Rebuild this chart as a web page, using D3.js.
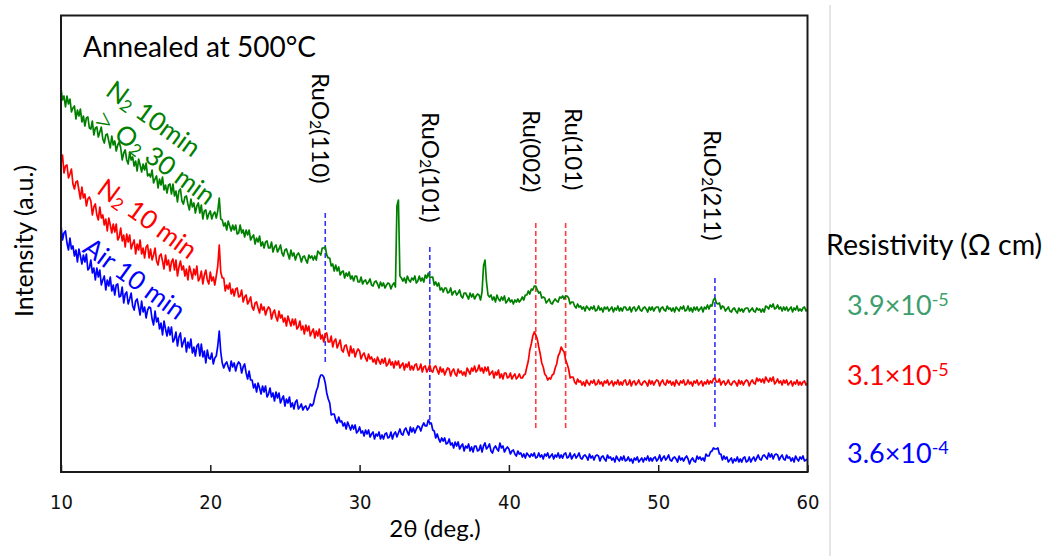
<!DOCTYPE html>
<html><head><meta charset="utf-8">
<script src="https://cdn.jsdelivr.net/npm/d3@7"></script>
<style>
body{margin:0;background:#fff;}
text{font-family:Lato,"Open Sans",sans-serif;}
</style></head><body>
<svg id="chart" width="1050" height="556"></svg>
<script>
const thetaStart = 10, thetaStep = 0.1;
const xTicks = [10, 20, 30, 40, 50, 60];

const greenN2O2 = [
384,372,376,365,376,368,373,360,364,366,353,362,356,363,350,356,346,354,355,344,
343,351,337,344,345,335,340,345,333,329,337,338,331,324,336,327,331,321,327,330,
324,312,319,322,312,308,320,312,315,306,311,301,313,307,300,308,302,309,296,298,
295,302,289,293,296,284,293,287,295,282,287,279,287,288,278,288,276,281,270,281,
283,271,268,275,276,268,262,273,265,269,259,266,269,259,267,253,261,262,253,258,
261,253,258,260,254,261,274,253,252,246,249,242,251,246,241,247,242,247,238,239,
247,239,242,235,242,237,242,232,235,237,228,234,230,236,226,230,224,230,231,224,
224,230,220,225,227,220,223,227,219,216,222,223,218,213,222,216,219,212,217,219,
216,210,215,216,212,209,217,214,216,212,216,212,221,219,217,224,224,225,217,214,
214,206,208,201,207,201,205,197,200,201,194,199,196,200,193,196,191,196,196,190,
190,195,188,191,192,188,190,193,187,186,190,191,188,184,190,186,189,184,187,189,
188,183,187,189,185,266,272,196,194,191,194,189,196,192,190,194,192,196,189,191,
196,191,194,190,197,194,199,194,195,195,187,190,186,189,182,184,180,184,184,179,
180,184,177,180,181,177,179,182,176,174,179,179,176,173,179,175,178,173,176,178,
177,172,180,206,212,190,177,175,177,172,175,170,177,173,171,175,172,176,169,171,
174,170,172,168,172,170,173,170,172,175,172,177,177,181,178,183,182,186,186,182,
179,180,174,175,174,169,171,173,169,168,171,173,171,170,175,174,176,173,176,176,
174,168,170,170,166,164,168,165,166,163,165,161,166,164,162,165,163,166,161,162,
166,162,164,160,165,163,165,161,163,165,160,164,162,166,161,164,161,165,165,162,
162,165,160,164,165,161,163,166,162,161,164,165,163,160,165,162,165,161,164,165,
165,160,164,165,162,161,166,163,164,161,164,160,165,163,161,165,163,166,161,162,
166,161,164,160,165,162,165,161,163,165,160,165,163,167,163,167,166,172,174,169,
168,169,163,166,165,161,163,165,161,160,163,164,161,159,164,161,163,160,163,164,
164,160,162,164,161,160,164,162,163,160,163,160,166,165,163,167,165,168,163,164,
167,163,165,161,165,162,165,161,163,165,160,164,162,166,161,163,161,164,165,161,
163];

const redN2 = [
309,317,299,306,307,294,298,303,288,283,290,291,282,273,285,274,278,266,273,275,
271,257,265,268,257,252,265,254,257,247,253,241,254,247,239,248,240,248,232,235,
244,231,237,225,238,230,237,223,228,232,218,228,222,232,218,224,214,225,227,214,
223,212,217,224,211,207,216,218,211,203,217,207,212,201,210,213,202,212,196,205,
211,202,206,196,203,192,206,200,193,203,197,206,191,194,201,188,197,202,192,188,
200,191,195,187,196,206,227,200,194,194,181,187,183,189,178,183,176,183,184,175,
176,182,170,175,177,168,171,175,165,162,169,170,164,159,168,162,165,157,162,165,
163,153,159,162,155,151,161,154,157,150,154,146,156,151,146,153,147,153,143,145,
151,142,146,138,147,141,146,136,140,143,134,141,136,143,133,137,130,138,139,130,
130,136,125,131,133,124,128,132,122,120,126,127,121,116,126,119,123,115,120,123,
121,113,117,119,114,111,118,113,115,110,113,108,115,111,108,113,109,114,106,108,
113,107,110,104,111,107,111,104,107,109,102,108,105,110,102,106,102,107,108,102,
103,108,100,105,106,100,103,107,101,100,105,106,102,98,105,100,103,97,101,104,
103,96,101,103,98,96,103,99,101,97,100,96,104,101,98,104,101,106,100,102,
107,101,104,99,105,101,105,97,99,101,94,100,97,102,94,98,93,99,99,94,
95,99,93,96,98,93,95,98,94,94,97,98,105,111,122,128,136,140,137,133,
125,118,109,105,98,96,92,94,93,97,98,104,108,116,119,125,122,120,112,108,
103,94,95,95,90,88,93,90,91,87,90,86,92,89,87,91,89,92,87,88,
92,88,90,86,91,89,92,87,89,91,86,90,88,92,87,90,87,91,92,87,
88,92,86,90,91,87,89,92,88,87,90,91,89,86,92,88,91,87,90,92,
91,86,90,92,88,87,92,89,91,87,90,86,92,89,87,91,89,92,87,88,
92,88,90,86,91,89,92,87,89,91,86,90,88,92,88,91,89,93,94,90,
90,93,87,90,91,87,89,92,88,87,90,91,89,86,92,88,91,87,90,92,
91,86,90,92,89,88,94,91,93,90,93,89,95,92,90,94,91,95,88,90,
93,89,91,87,92,89,92,87,89,91,86,90,88,92,87,90,87,90,91,87,
89];

const blueAir = [
247,232,239,241,229,222,234,223,226,216,222,210,223,216,208,217,210,218,202,204,
212,199,204,192,204,195,202,187,192,196,182,192,186,195,181,187,177,187,188,175,
176,185,169,178,180,168,173,179,166,162,171,173,165,157,171,160,165,154,162,165,
164,153,147,161,150,154,143,149,137,151,143,136,145,137,145,130,133,140,126,135,
139,125,130,134,120,130,124,133,119,125,116,126,128,116,128,115,121,109,122,114,
113,119,108,114,116,126,141,120,109,104,108,110,105,101,111,105,109,101,107,110,
108,99,105,108,99,93,101,92,92,84,88,80,89,84,78,86,80,86,75,78,
84,75,79,71,80,74,79,69,73,76,66,73,69,75,65,69,63,70,72,63,
65,68,62,65,66,62,64,68,66,68,75,81,85,93,97,97,95,89,79,73,
69,57,58,58,52,49,55,50,51,46,49,43,50,46,42,47,43,47,39,41,
45,39,41,36,42,38,42,35,38,40,33,38,36,40,33,37,33,38,39,34,
35,40,33,38,40,35,39,43,38,37,42,44,40,37,45,40,44,39,43,46,
45,41,46,49,46,46,52,49,49,42,41,34,38,33,30,34,31,34,28,29,
33,27,29,24,30,26,30,23,26,28,21,26,24,28,21,25,20,26,26,21,
22,27,20,26,29,23,25,28,21,19,24,26,23,21,29,24,26,20,23,25,
23,18,21,22,18,16,21,18,19,15,18,14,19,17,15,18,16,19,14,15,
19,15,17,13,18,16,19,14,16,18,13,17,15,19,14,17,14,18,19,14,
15,19,13,16,18,14,16,19,14,13,16,17,15,12,18,14,16,12,16,17,
16,11,15,16,13,11,17,14,15,12,14,10,16,13,11,15,12,16,11,12,
15,11,13,9,14,12,15,10,12,14,10,14,12,16,11,14,11,14,15,11,
13,17,11,14,16,12,14,17,12,11,14,15,13,10,16,12,14,11,14,16,
13,8,12,14,11,10,16,13,15,12,14,11,18,16,16,20,21,24,23,23,
24,18,18,12,16,13,15,10,12,14,9,13,11,15,10,13,10,14,15,10,
11,15,10,13,15,11,14,17,13,12,16,17,15,13,19,15,18,13,17,18,
17,12,15,17,13,12,17,14,15,11,14,10,16,13,11,15,13,16,11,12,
13];

// reference peak lines
const peakTheta  = [27.7, 34.7, 41.8, 43.8, 53.8];
const peakTop    = [259, 225, 249, 249, 194];
const peakBottom = [107, 47, 42, 42, 43];
const peakPhase  = ["RuO2", "RuO2", "Ru", "Ru", "RuO2"];
const peakLabels = ["RuO₂(110)", "RuO₂(101)", "Ru(002)", "Ru(101)", "RuO₂(211)"];
const peakLabelTheta = [27.48, 34.85, 41.61, 44.43, 53.74];
const peakLabelTop   = [399, 360, 362, 364, 342];

// series labels
const seriesLabels = ["N₂ 10min", "> O₂ 30 min", "N₂ 10 min", "Air 10 min"];
const seriesLabelTheta = [16.23, 16.3, 15.83, 14.95];
const seriesLabelValue = [354, 316, 254, 194];
const seriesLabelColor = ["#008000", "#008000", "#ff0000", "#0000ff"];

const resistivityMant = ["3.9×10", "3.1×10", "3.6×10"];
const resistivityExp  = ["-5", "-5", "-4"];

const svg = d3.select("#chart");
const x = d3.scaleLinear().domain([10, 60]).range([61, 807.5]);
const y = d3.scaleLinear().domain([0, 456.5]).range([472, 15.5]);

// separator line
svg.append("line").attr("x1", 830).attr("x2", 830).attr("y1", 5).attr("y2", 556)
  .attr("stroke", "#dcdcdc").attr("stroke-width", 1.5);

// dashed peak lines
const phaseColor = {RuO2: "#3333ff", Ru: "#ff3b3b"};
svg.append("g").selectAll("line").data(peakTheta).join("line")
  .attr("x1", d => x(d)).attr("x2", d => x(d))
  .attr("y1", (d, i) => y(peakTop[i])).attr("y2", (d, i) => y(peakBottom[i]))
  .attr("stroke", (d, i) => phaseColor[peakPhase[i]])
  .attr("stroke-width", 1.6).attr("stroke-dasharray", "5,3");

// data lines
const line = d3.line().x((d, i) => x(thetaStart + i * thetaStep)).y(d => y(d));
const series = [[blueAir, "#0000ff"], [redN2, "#ff0000"], [greenN2O2, "#008000"]];
svg.append("g").selectAll("path").data(series).join("path")
  .attr("d", d => line(d[0])).attr("fill", "none")
  .attr("stroke", d => d[1]).attr("stroke-width", 1.7).attr("stroke-linejoin", "round");

// rich text helper for subscript ₂ and a larger chevron
function rich(t, str, size) {
  let rest = str;
  if (rest.startsWith(">")) {
    t.append("tspan").attr("font-size", size * 1.3).attr("font-weight", 300).text(">");
    rest = rest.slice(1);
  }
  const parts = rest.split("₂");
  parts.forEach((p, k) => {
    if (k > 0) {
      t.append("tspan").attr("font-size", size * 0.66).attr("dy", size * 0.22).text("2");
      t.append("tspan").attr("font-size", size).attr("dy", -size * 0.22).text(p);
    } else {
      t.append("tspan").attr("font-size", size).text(p);
    }
  });
}

// peak labels
peakLabels.forEach((lab, i) => {
  const t = svg.append("text")
    .attr("transform", `translate(${x(peakLabelTheta[i])},${y(peakLabelTop[i])}) rotate(90)`)
    .attr("font-size", 24).attr("dominant-baseline", "central").attr("fill", "#000");
  rich(t, lab, 24);
});

// series labels
seriesLabels.forEach((lab, i) => {
  const t = svg.append("text")
    .attr("transform", `translate(${x(seriesLabelTheta[i])},${y(seriesLabelValue[i])}) rotate(36)`)
    .attr("font-size", 26).attr("text-anchor", "middle").attr("dominant-baseline", "central")
    .attr("fill", seriesLabelColor[i]);
  rich(t, lab, 26);
});

// frame
svg.append("rect").attr("x", 61).attr("y", 15.5).attr("width", 746.5).attr("height", 456.5)
  .attr("fill", "none").attr("stroke", "#1a1a1a").attr("stroke-width", 2);

// x axis
const ax = svg.append("g").attr("transform", "translate(0,472)")
  .call(d3.axisBottom(x).tickValues(xTicks).tickSize(-7).tickFormat(d3.format("d")));
ax.select(".domain").remove();
ax.selectAll(".tick line").attr("stroke", "#1a1a1a").attr("stroke-width", 1.5);
ax.selectAll(".tick text").attr("y", 30).attr("dy", "0.35em")
  .attr("font-size", 20).attr("fill", "#111")
  .style("font-family", "'Liberation Sans Narrow','DejaVu Sans Condensed',Lato,sans-serif");

// axis titles
svg.append("text").attr("x", 435).attr("y", 537).attr("text-anchor", "middle")
  .attr("font-size", 24).text("2θ (deg.)");
svg.append("text").attr("transform", "translate(33,241) rotate(-90)")
  .attr("text-anchor", "middle").attr("font-size", 25).text("Intensity (a.u.)");

svg.append("text").attr("x", 83).attr("y", 57).attr("font-size", 28).text("Annealed at 500°C");

// resistivity
svg.append("text").attr("x", 826).attr("y", 255).attr("font-size", 28.5).text("Resistivity (Ω cm)");
const resColor = ["#3c9e6c", "#ff0000", "#0000ff"];
const resBase = [315, 385, 463];
resistivityMant.forEach((m, i) => {
  const t = svg.append("text").attr("x", 847).attr("y", resBase[i]).attr("font-size", 27).attr("fill", resColor[i]);
  t.append("tspan").text(m);
  t.append("tspan").attr("font-size", 18).attr("dy", -9).text(resistivityExp[i]);
});
</script>
</body></html>
